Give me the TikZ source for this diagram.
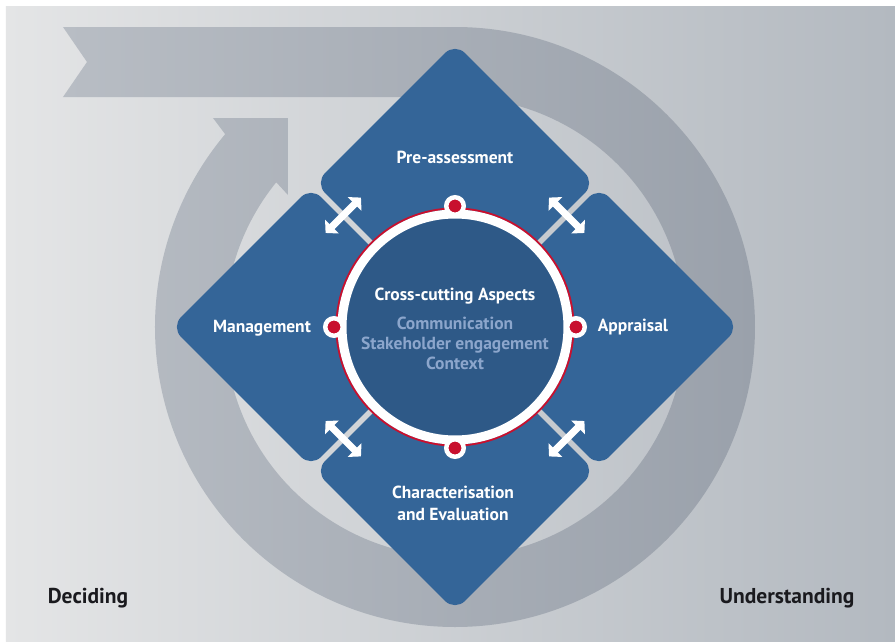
\documentclass[tikz,border=0pt]{standalone}
\usepackage{fontspec}
\setmainfont{PT Sans}
\usetikzlibrary{shapes.geometric,arrows.meta,positioning,calc}

\definecolor{bgleft}{RGB}{228,229,230}
\definecolor{bgright}{RGB}{179,185,192}
\definecolor{ringleft}{RGB}{184,189,196}
\definecolor{ringright}{RGB}{154,161,171}
\definecolor{phaseblue}{RGB}{52,101,152}
\definecolor{coreblue}{RGB}{46,89,135}
\definecolor{dotred}{RGB}{200,16,46}
\definecolor{softblue}{RGB}{140,166,204}
\definecolor{inktext}{RGB}{26,26,30}

\begin{document}
\begin{tikzpicture}
[x=1pt, y=1pt,
 phase/.style={diamond, fill=phaseblue, minimum size=280pt, inner sep=0pt, rounded corners=14pt},
 phaselabel/.style={text=white, align=center, font=\bfseries\fontsize{17.5}{22}\selectfont},
 aspectlist/.style={text=softblue, align=center, font=\bfseries\fontsize{17.5}{20}\selectfont},
 sidelabel/.style={text=inktext, font=\bfseries\fontsize{21.5}{24}\selectfont},
 hub/.style={circle, fill=dotred, draw=white, line width=4.5pt, minimum size=17.5pt, inner sep=0pt},
 twoway/.style={draw=white, line width=7pt, >={Triangle[length=9pt,width=19pt]}, <->}]

\fill[white] (-455,-314) rectangle (440,327);
\useasboundingbox (-455,-314) rectangle (440,327);
\shade[left color=bgleft, right color=bgright] (-449,-314) rectangle (440,321);

% grey cycle arrow
\shade[left color=ringleft, right color=ringright]
  (-392,300) -- (0,300) arc[start angle=90, end angle=-220, radius=300]
  -- (-242,209) -- (-167,209) -- (-167,132) -- (141:230)
  arc[start angle=-219, end angle=90, radius=230]
  -- (-392,230) -- (-368,265) -- cycle;

% the four phases
\node[phase] (pre) at (0,144) {};
\node[phase] (man) at (-144,0) {};
\node[phase] (app) at (144,0) {};
\node[phase] (char) at (0,-144) {};

\foreach \a in {45,135,225,315} {
  \coordinate (gap\a) at (\a:158);
  \draw[twoway] ([shift={(\a-90:25)}]gap\a) -- ([shift={(\a+90:25)}]gap\a);
}

% cross-cutting core
\node[circle, fill=coreblue, minimum size=237pt, inner sep=0pt] (core) at (0,0) {};
\draw[dotred, line width=2pt] (core.center) circle[radius=118.5];
\draw[white, line width=9pt] (core.center) circle[radius=113];
\foreach \a in {0,90,180,270}
  \node[hub] (hub\a) at (\a:121) {};

\node[phaselabel] (prelbl) at (0,170) {Pre-assessment};
\node[phaselabel] (manlbl) at (-193,-1) {Management};
\node[phaselabel] (applbl) at (178,0) {Appraisal};
\node[phaselabel] (charlbl) at (-2,-176) {Characterisation\\and Evaluation};

\node[phaselabel] (aspects) at (0,31) {Cross-cutting Aspects};
\node[aspectlist, below=6pt of aspects] (aspectitems) {Communication\\Stakeholder engagement\\Context};

\node[sidelabel] (deciding) at (-367,-271) {Deciding};
\node[sidelabel] (understanding) at (332,-271) {Understanding};

\end{tikzpicture}
\end{document}
